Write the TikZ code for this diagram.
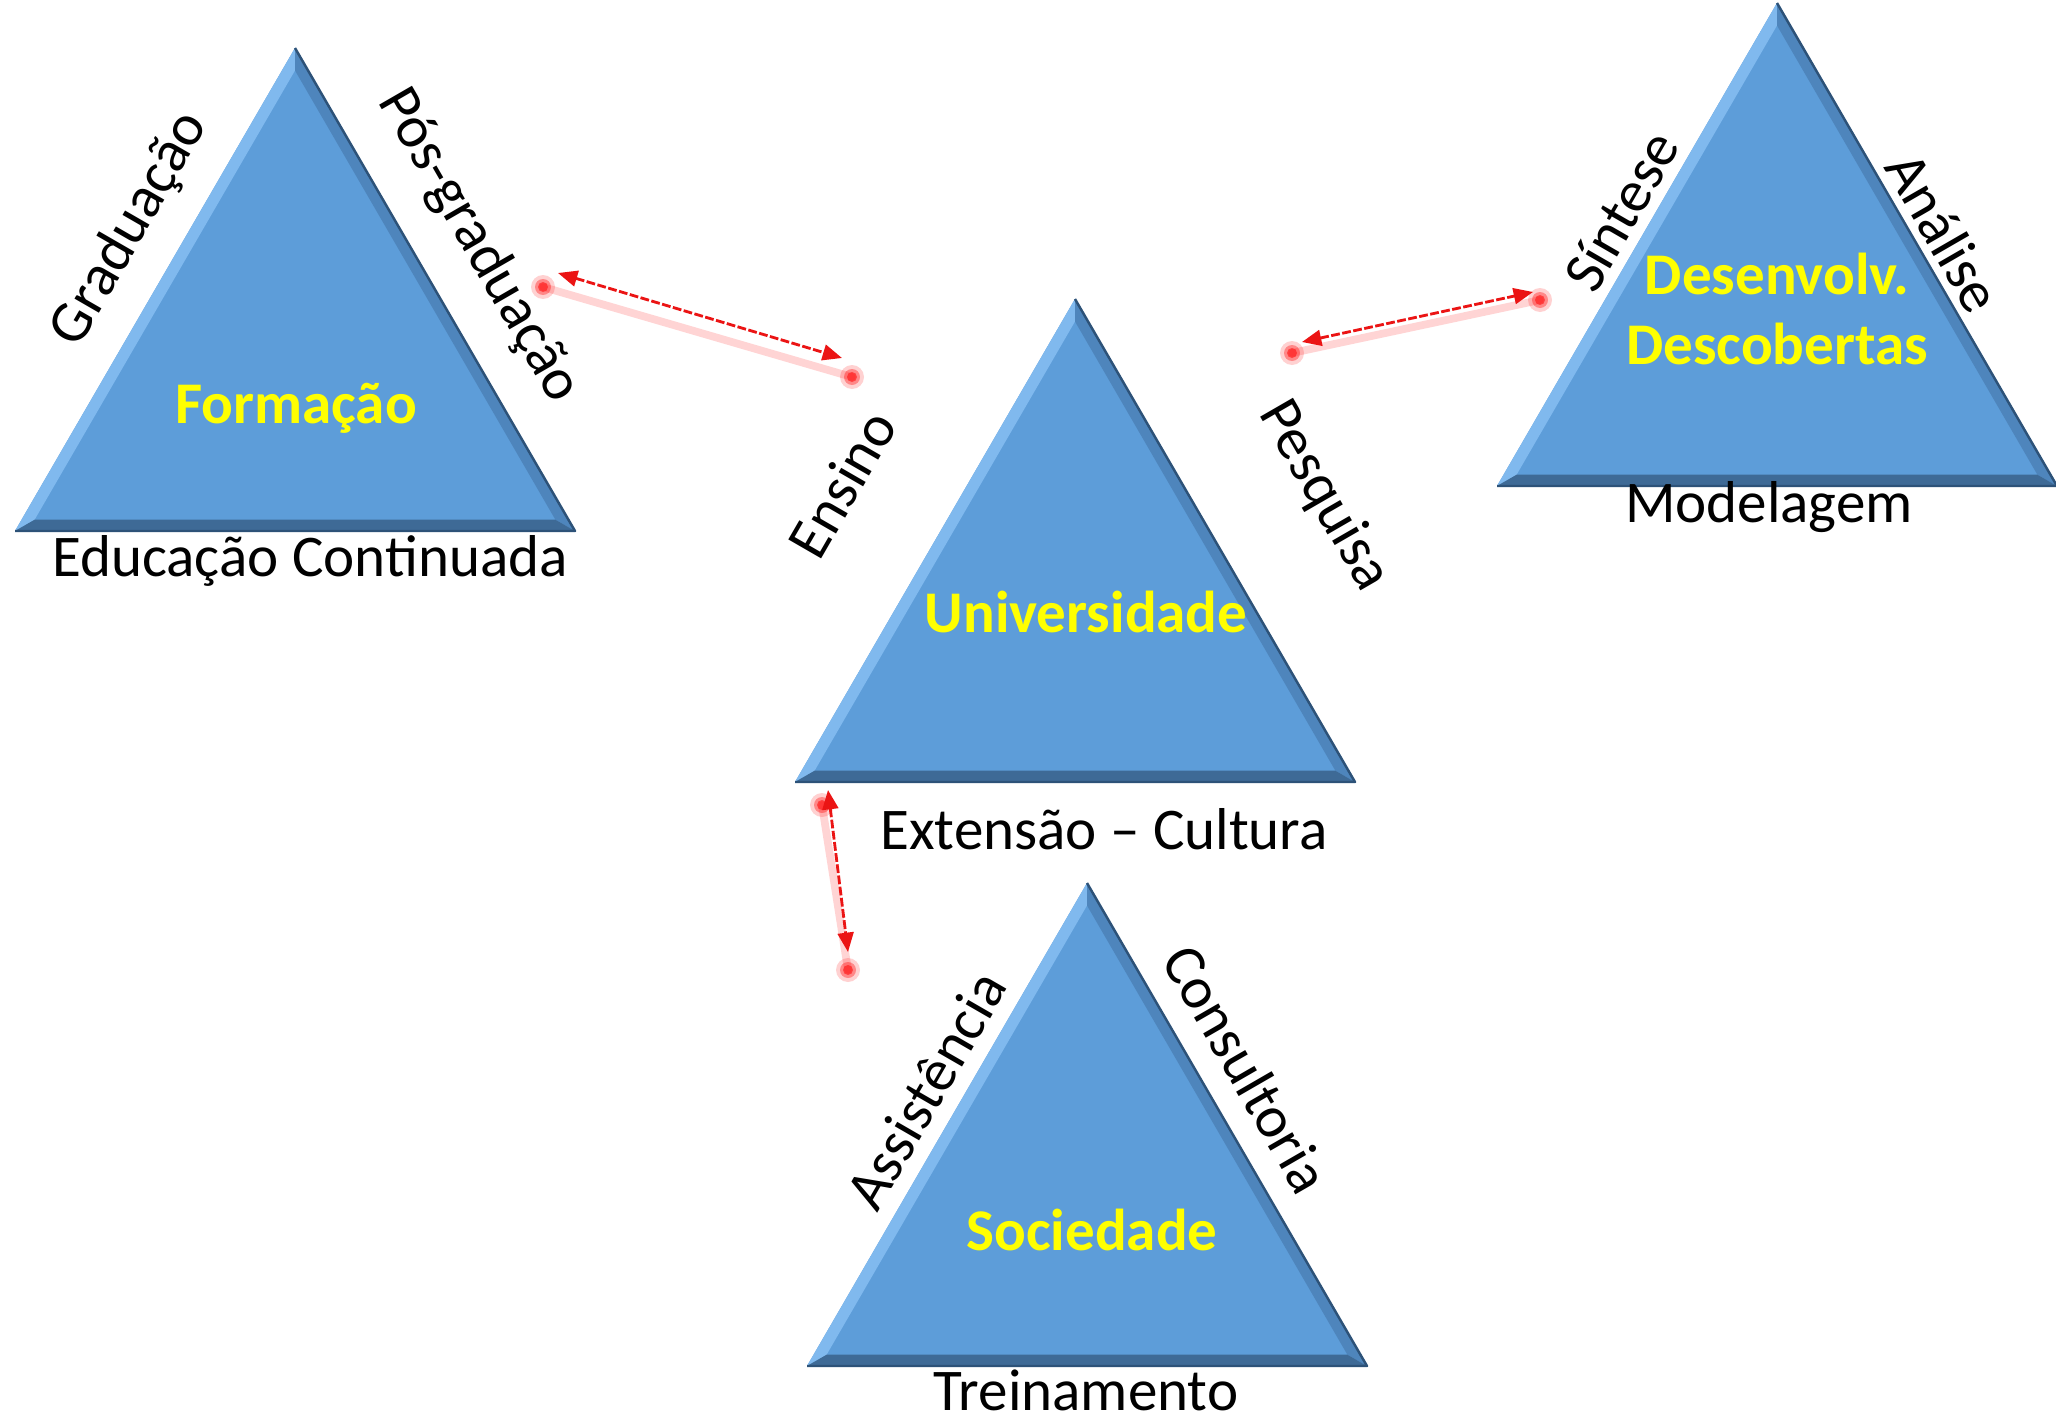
\documentclass[tikz,border=0pt]{standalone}
\usepackage{fontspec}
\setmainfont{Carlito}
\usetikzlibrary{calc,arrows.meta}
\definecolor{tribase}{RGB}{93,157,217}
\definecolor{bevl}{RGB}{128,185,238}
\definecolor{bevr}{RGB}{78,133,188}
\definecolor{bevb}{RGB}{62,106,150}
\definecolor{triedge}{RGB}{45,82,120}
\definecolor{ttlyellow}{RGB}{255,255,0}
\definecolor{arrred}{RGB}{235,20,20}
\newcommand\bevtri[3]{%
  \coordinate (#1-a) at (#2,#3);
  \coordinate (#1-l) at (#2-280,#3+483);
  \coordinate (#1-r) at (#2+280,#3+483);
  \coordinate (#1-g) at (#2,#3+322);
  \coordinate (#1-ia) at ($(#1-a)!0.07!(#1-g)$);
  \coordinate (#1-il) at ($(#1-l)!0.07!(#1-g)$);
  \coordinate (#1-ir) at ($(#1-r)!0.07!(#1-g)$);
  \fill[tribase] (#1-a) -- (#1-l) -- (#1-r) -- cycle;
  \fill[bevl] (#1-a) -- (#1-l) -- (#1-il) -- (#1-ia) -- cycle;
  \fill[bevr] (#1-a) -- (#1-r) -- (#1-ir) -- (#1-ia) -- cycle;
  \fill[bevb] (#1-l) -- (#1-r) -- (#1-ir) -- (#1-il) -- cycle;
  \draw[triedge, line width=0.7pt, line join=round] (#1-a) -- (#1-r) -- (#1-l);
}
\newcommand\myblob[1]{%
  \fill[red, opacity=0.18] (#1) circle (12);
  \fill[red, opacity=0.35] (#1) circle (8);
  \fill[red, opacity=0.5] (#1) circle (5);
}
\begin{document}
\begin{tikzpicture}[x=0.01cm, y=-0.01cm,
  lbl/.style={font=\fontsize{16.8}{19}\selectfont, inner sep=0pt},
  ttl/.style={font=\fontsize{16.8}{20}\selectfont\bfseries, text=ttlyellow, inner sep=0pt, align=center},
  arr/.style={draw=arrred, line width=0.8pt, dash pattern=on 2.5pt off 0.7pt,
    {Triangle[length=5.5pt,width=4.5pt]}-{Triangle[length=5.5pt,width=4.5pt]}},
  shadowln/.style={draw=red!30, line width=2.2pt, opacity=0.55, line cap=round}
]
\fill[white] (0,0) rectangle (2056,1421);
\useasboundingbox (0,0) rectangle (2056,1421);

% triangles
\bevtri{F}{295}{48}
\bevtri{U}{1075}{299}
\bevtri{D}{1777}{3}
\bevtri{S}{1087}{883}

% Formacao
\node[lbl, rotate=60] (grad) at (130,229) {Graduação};
\node[lbl, rotate=-60] (pos) at (479,246) {Pós-graduação};
\node[ttl] (form) at (296,408) {Formação};
\node[lbl] (educ) at (310,561) {Educação Continuada};

% Universidade
\node[lbl, rotate=60] (ens) at (842,484) {Ensino};
\node[lbl, rotate=-60] (pesq) at (1324,496) {Pesquisa};
\node[ttl] (univ) at (1086,612) {Universidade};
\node[lbl] (ext) at (1104,829) {Extensão – Cultura};

% Desenvolvimento
\node[lbl, rotate=60] (sint) at (1621,211) {Síntese};
\node[lbl, rotate=-60] (anal) at (1944,232) {Análise};
\node[ttl] (desc) at (1777,309) {Desenvolv.\\Descobertas};
\node[lbl] (model) at (1769,507) {Modelagem};

% Sociedade
\node[lbl, rotate=60] (assist) at (926,1090) {Assistência};
\node[lbl, rotate=-60] (cons) at (1247,1069) {Consultoria};
\node[ttl] (soc) at (1092,1230) {Sociedade};
\node[lbl] (trein) at (1086,1390) {Treinamento};

% connector end points
\coordinate (a1s) at (558,273);
\coordinate (a1e) at (842,358);
\coordinate (b1s) at (543,287);
\coordinate (b1e) at (852,377);
\coordinate (a2s) at (1302,342);
\coordinate (a2e) at (1533,292);
\coordinate (b2s) at (1292,353);
\coordinate (b2e) at (1540,300);
\coordinate (a3s) at (828,790);
\coordinate (a3e) at (848,952);
\coordinate (b3s) at (822,805);
\coordinate (b3e) at (848,970);

% reflections
\draw[shadowln] (b1s) -- (b1e);
\draw[shadowln] (b2s) -- (b2e);
\draw[shadowln] (b3s) -- (b3e);
\myblob{b1s}\myblob{b1e}\myblob{b2s}\myblob{b2e}\myblob{b3s}\myblob{b3e}

% connectors
\draw[arr] (a1s) -- (a1e);
\draw[arr] (a2s) -- (a2e);
\draw[arr] (a3s) -- (a3e);
\end{tikzpicture}
\end{document}
